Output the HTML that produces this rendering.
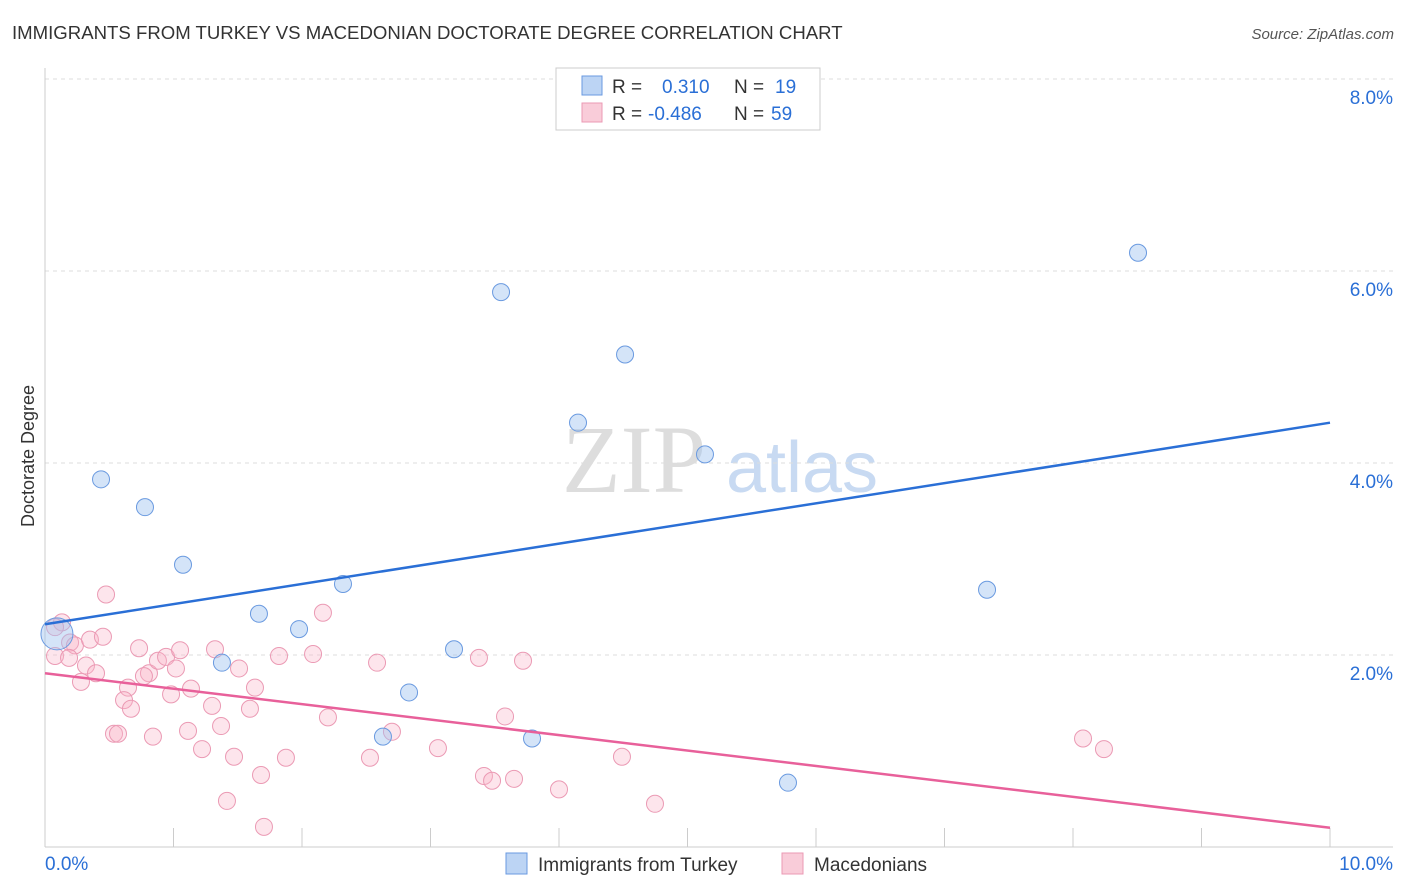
<!DOCTYPE html>
<html><head><meta charset="utf-8"><style>
body{margin:0;background:#fff;font-family:"Liberation Sans",sans-serif;}
svg{display:block}
</style></head><body>
<svg id="c" width="1406" height="892">
<text x="12" y="39" font-size="18.6" fill="#333">IMMIGRANTS FROM TURKEY VS MACEDONIAN DOCTORATE DEGREE CORRELATION CHART</text>
<text x="1394" y="39" font-size="15" fill="#555" font-style="italic" text-anchor="end">Source: ZipAtlas.com</text>
<text x="634" y="492" font-size="96" fill="#ddd" font-family="Liberation Serif,serif" text-anchor="middle">ZIP</text>
<text x="802" y="492" font-size="72" fill="#c8daf2" text-anchor="middle">atlas</text>
<text transform="translate(34,456) rotate(-90)" font-size="18" fill="#333" text-anchor="middle">Doctorate Degree</text>
<g id="grid"></g><g id="pts"></g><g id="lines"></g>
<g>
<rect x="556" y="68" width="264" height="62" fill="#fff" stroke="#ccc"/>
<rect x="582" y="76" width="20" height="19" fill="#bcd4f4" stroke="#6a9ae0"/>
<rect x="582" y="103" width="20" height="19" fill="#f9ccd9" stroke="#eb9ab4"/>
<text x="612" y="93" font-size="19" fill="#333">R =</text><text x="662" y="93" font-size="19" fill="#2a6fd6">0.310</text>
<text x="734" y="93" font-size="19" fill="#333">N =</text><text x="775" y="93" font-size="19" fill="#2a6fd6">19</text>
<text x="612" y="120" font-size="19" fill="#333">R =</text><text x="648" y="120" font-size="19" fill="#2a6fd6">-0.486</text>
<text x="734" y="120" font-size="19" fill="#333">N =</text><text x="771" y="120" font-size="19" fill="#2a6fd6">59</text>
</g>
<g>
<rect x="506" y="853" width="21" height="21" fill="#bcd4f4" stroke="#6a9ae0"/>
<text x="538" y="871" font-size="19" fill="#333">Immigrants from Turkey</text>
<rect x="782" y="853" width="21" height="21" fill="#f9ccd9" stroke="#eb9ab4"/>
<text x="814" y="871" font-size="19" fill="#333">Macedonians</text>
</g>
</svg>
<script>
const xTicks=[0,10];
const yTicks=[2,4,6,8];
const blueX=[0.436,0.778,1.074,1.665,1.977,2.319,1.377,2.833,2.630,3.183,3.549,4.148,4.514,5.136,3.790,5.782,7.331,8.506,0.093];
const blueY=[3.83,3.54,2.94,2.43,2.27,2.74,1.92,1.61,1.15,2.06,5.78,4.42,5.13,4.09,1.13,0.67,2.68,6.19,2.22];
const pinkX=[0.475,0.132,0.078,0.195,0.078,0.233,0.350,0.451,0.187,0.319,0.397,0.280,0.646,0.615,0.669,0.537,0.568,0.840,0.732,0.809,0.770,0.879,0.942,1.051,1.019,0.981,1.136,1.113,1.222,1.300,1.323,1.370,1.510,1.471,1.595,1.634,1.681,1.416,1.704,1.821,1.875,2.086,2.163,2.202,2.529,2.584,2.700,3.058,3.377,3.580,3.416,3.479,3.650,3.720,4.000,4.490,4.747,8.078,8.241];
const pinkY=[2.63,2.34,2.29,2.13,1.99,2.10,2.16,2.19,1.97,1.89,1.81,1.72,1.66,1.53,1.44,1.18,1.18,1.15,2.07,1.81,1.78,1.94,1.98,2.05,1.86,1.59,1.65,1.21,1.02,1.47,2.06,1.26,1.86,0.94,1.44,1.66,0.75,0.48,0.21,1.99,0.93,2.01,2.44,1.35,0.93,1.92,1.20,1.03,1.97,1.36,0.74,0.69,0.71,1.94,0.60,0.94,0.45,1.13,1.02];
const blueTrend=[2.32,4.42];
const pinkTrend=[1.81,0.20];
const NS="http://www.w3.org/2000/svg";
const sx=v=>45+v*128.5, sy=v=>847-v*96;
function mk(t,a,p){const e=document.createElementNS(NS,t);for(const k in a)e.setAttribute(k,a[k]);p.appendChild(e);return e;}
const grid=document.getElementById('grid');
yTicks.forEach(t=>{
 const l=mk('line',{x1:45,x2:1393,y1:sy(t),y2:sy(t),stroke:'#ddd','stroke-dasharray':'4,4'},grid);
 
 
 const tx=mk('text',{x:1393,y:sy(t)+25,'font-size':19,fill:'#2a6fd6','text-anchor':'end'},grid);
 tx.textContent=t.toFixed(1)+'%';
 
 
});
mk('line',{x1:45,x2:45,y1:68,y2:847,stroke:'#ccc'},grid);
mk('line',{x1:45,x2:1393,y1:847,y2:847,stroke:'#ccc'},grid);
for(let i=1;i<=10;i++){mk('line',{x1:sx(i),x2:sx(i),y1:828,y2:847,stroke:'#ccc'},grid);}
xTicks.forEach((t,i)=>{
 const tx=mk('text',{x:i?1393:45,y:870,'font-size':19,fill:'#2a6fd6','text-anchor':i?'end':'start'},grid);
 tx.textContent=t.toFixed(1)+'%';
 
 
});
const pts=document.getElementById('pts');
pinkX.forEach((x,i)=>{
 const c=mk('circle',{cx:sx(x),cy:sy(pinkY[i]),r:8.5,fill:'rgba(248,180,200,0.35)',stroke:'#eb9ab4','stroke-width':1},pts);
 
 
});
blueX.forEach((x,i)=>{
 const c=mk('circle',{cx:sx(x),cy:sy(blueY[i]),r:i==18?16:8.5,fill:'rgba(160,196,240,0.45)',stroke:'#6a9ae0','stroke-width':1},pts);
 
 
});
const ln=document.getElementById('lines');
const b=mk('line',{x1:sx(0),y1:sy(blueTrend[0]),x2:sx(10),y2:sy(blueTrend[1]),stroke:'#2a6fd6','stroke-width':2.5},ln);


const p=mk('line',{x1:sx(0),y1:sy(pinkTrend[0]),x2:sx(10),y2:sy(pinkTrend[1]),stroke:'#e8609a','stroke-width':2.5},ln);


</script>
</body></html>
